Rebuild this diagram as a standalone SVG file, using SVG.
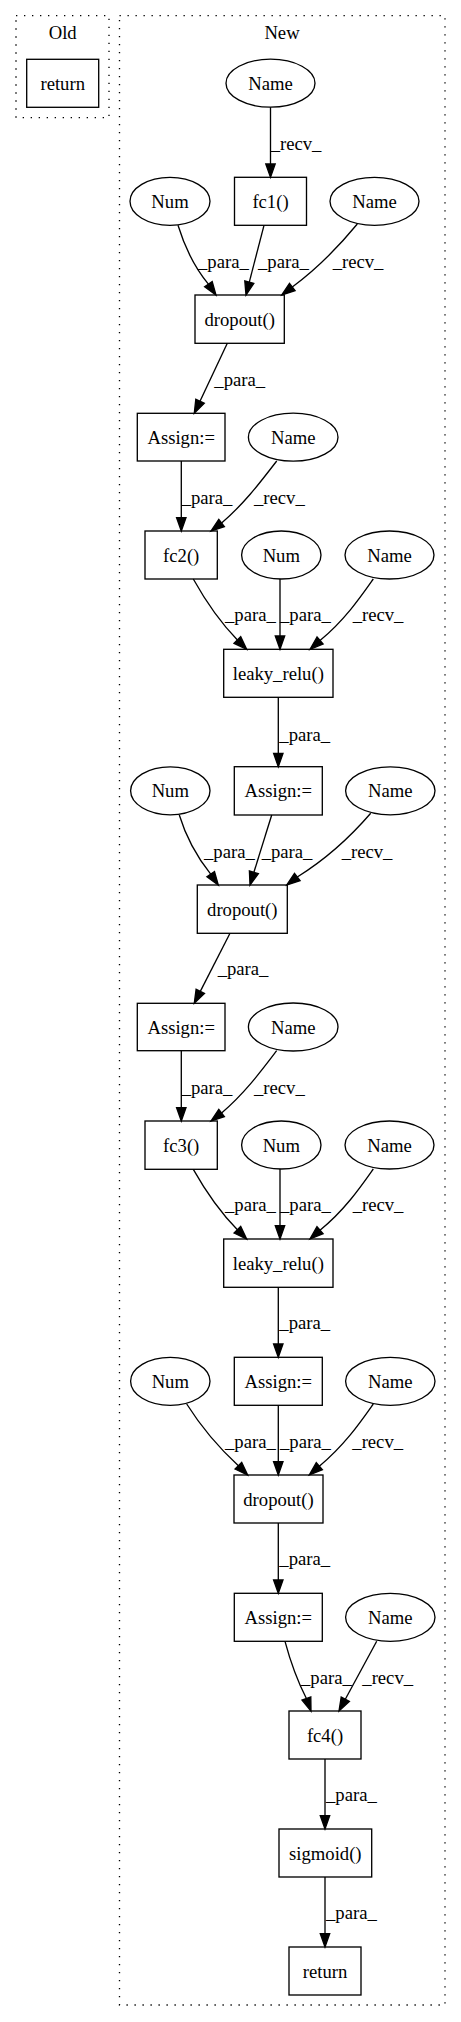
<svg xmlns="http://www.w3.org/2000/svg" width="461" height="2022" viewBox="0 0 461 2022">
<style>
text{font-family:"Liberation Serif","Times New Roman",serif;font-size:18.67px;fill:#000}
.n text{text-anchor:middle}
.n rect,.n ellipse{fill:none;stroke:#000;stroke-width:1.33}
.cl{fill:none;stroke:#000;stroke-width:1.33;stroke-dasharray:1.33,6.67}
.e path{fill:none;stroke:#000;stroke-width:1.33}
.e polygon{fill:#000;stroke:#000;stroke-width:1.33}
</style>
<rect width="461" height="2022" fill="#fff"/>
<g id="clusters">
<rect class="cl" x="16" y="15.7" width="93" height="102"/>
<text x="62.7" y="39" text-anchor="middle">Old</text>
<rect class="cl" x="119.5" y="15.7" width="325.5" height="1989.3"/>
<text x="282" y="39" text-anchor="middle">New</text>
</g>
<g id="old_return" class="n"><rect x="26.7" y="59.3" width="72" height="48"/><text x="62.7" y="89.8">return</text></g>
<g id="name1" class="n"><ellipse cx="270.5" cy="83.2" rx="44.5" ry="24"/><text x="270.5" y="89.8">Name</text></g>
<g id="fc1" class="n"><rect x="234.5" y="177.3" width="72" height="48"/><text x="270.5" y="207.8">fc1()</text></g>
<g id="num1" class="n"><ellipse cx="170" cy="201.3" rx="40" ry="24"/><text x="170" y="207.8">Num</text></g>
<g id="name2" class="n"><ellipse cx="374.5" cy="201.3" rx="44.5" ry="24"/><text x="374.5" y="207.8">Name</text></g>
<g id="dropout1" class="n"><rect x="195" y="295" width="89.3" height="48.3"/><text x="239.7" y="325.5">dropout()</text></g>
<g id="assign1" class="n"><rect x="137.3" y="413.3" width="87.7" height="47.7"/><text x="181.2" y="443.7">Assign:=</text></g>
<g id="name3" class="n"><ellipse cx="293.2" cy="437.2" rx="44.8" ry="24"/><text x="293.2" y="443.7">Name</text></g>
<g id="fc2" class="n"><rect x="145" y="531" width="72.3" height="48"/><text x="181.2" y="561.5">fc2()</text></g>
<g id="num2" class="n"><ellipse cx="281.3" cy="555" rx="39.7" ry="24"/><text x="281.3" y="561.5">Num</text></g>
<g id="name4" class="n"><ellipse cx="389.5" cy="555" rx="44.5" ry="24"/><text x="389.5" y="561.5">Name</text></g>
<g id="leaky1" class="n"><rect x="223.7" y="649.3" width="109.3" height="48"/><text x="278.3" y="679.8">leaky_relu()</text></g>
<g id="assign2" class="n"><rect x="234.3" y="766.7" width="88" height="48.3"/><text x="278.3" y="797.3">Assign:=</text></g>
<g id="num3" class="n"><ellipse cx="170.3" cy="790.8" rx="39.7" ry="24"/><text x="170.3" y="797.3">Num</text></g>
<g id="name5" class="n"><ellipse cx="390.3" cy="790.8" rx="44.7" ry="24"/><text x="390.3" y="797.3">Name</text></g>
<g id="dropout2" class="n"><rect x="197.3" y="885" width="90" height="48.3"/><text x="242.3" y="915.5">dropout()</text></g>
<g id="assign3" class="n"><rect x="137.3" y="1003.3" width="87.7" height="47.4"/><text x="181.2" y="1033.5">Assign:=</text></g>
<g id="name6" class="n"><ellipse cx="293.2" cy="1027" rx="44.8" ry="24"/><text x="293.2" y="1033.5">Name</text></g>
<g id="fc3" class="n"><rect x="145" y="1121" width="72.3" height="48.3"/><text x="181.2" y="1151.5">fc3()</text></g>
<g id="num4" class="n"><ellipse cx="281.3" cy="1145" rx="39.7" ry="24"/><text x="281.3" y="1151.5">Num</text></g>
<g id="name7" class="n"><ellipse cx="389.5" cy="1145" rx="44.5" ry="24"/><text x="389.5" y="1151.5">Name</text></g>
<g id="leaky2" class="n"><rect x="223.7" y="1239" width="109.3" height="48.3"/><text x="278.3" y="1269.5">leaky_relu()</text></g>
<g id="assign4" class="n"><rect x="234.3" y="1357.3" width="88" height="48"/><text x="278.3" y="1387.8">Assign:=</text></g>
<g id="num5" class="n"><ellipse cx="170.3" cy="1381.3" rx="39.7" ry="24"/><text x="170.3" y="1387.8">Num</text></g>
<g id="name8" class="n"><ellipse cx="390.3" cy="1381.3" rx="44.7" ry="24"/><text x="390.3" y="1387.8">Name</text></g>
<g id="dropout3" class="n"><rect x="234" y="1475" width="89" height="48"/><text x="278.5" y="1505.5">dropout()</text></g>
<g id="assign5" class="n"><rect x="234.3" y="1593.3" width="88" height="48"/><text x="278.3" y="1623.8">Assign:=</text></g>
<g id="name9" class="n"><ellipse cx="390.3" cy="1617.3" rx="44.7" ry="24"/><text x="390.3" y="1623.8">Name</text></g>
<g id="fc4" class="n"><rect x="289" y="1711" width="72" height="48"/><text x="325" y="1741.5">fc4()</text></g>
<g id="sigmoid" class="n"><rect x="279" y="1829" width="92.7" height="48"/><text x="325.3" y="1859.5">sigmoid()</text></g>
<g id="new_return" class="n"><rect x="289" y="1947" width="72" height="48"/><text x="325" y="1977.5">return</text></g>
<g id="edges" class="e">
<path d="M270.5,107.2 L270.5,164"/><polygon points="265.8,164 270.5,177.3 275.2,164"/>
<text x="270.7" y="150">_recv_</text>
<path d="M178,225.3 C185,248 195,268 208.4,284.1"/><polygon points="204.6,286.8 216,295 212.2,281.5"/>
<text x="198" y="268">_para_</text>
<path d="M264,225.3 L249.3,282.1"/><polygon points="244.8,281 246,295 253.8,283.3"/>
<text x="258" y="268">_para_</text>
<path d="M357.3,224 C340,245 318,268 292.3,287"/><polygon points="289.5,283.3 281.7,295 295.1,290.7"/>
<text x="332.7" y="268">_recv_</text>
<path d="M227.3,343.3 L200,401.3"/><polygon points="195.8,399.3 194.3,413.3 204.3,403.3"/>
<text x="214.3" y="386">_para_</text>
<path d="M181.3,461 L181.3,517.7"/><polygon points="176.6,517.7 181.3,531 186,517.7"/>
<text x="181.7" y="503.5">_para_</text>
<path d="M276.7,461 C262,480 245,503 221.6,523"/><polygon points="218.8,519.3 211,531 224.4,526.7"/>
<text x="254" y="503.5">_recv_</text>
<path d="M193.3,579 C205,600 220,622 237.4,640"/><polygon points="234,643.3 246.7,649.3 240.7,636.7"/>
<text x="225" y="621">_para_</text>
<path d="M280,579 L280,636"/><polygon points="275.3,636 280,649.3 284.7,636"/>
<text x="280" y="621">_para_</text>
<path d="M373.3,579 C362,595 345,620 320,640.5"/><polygon points="317,637 310,649.3 323.1,644"/>
<text x="352.7" y="621">_recv_</text>
<path d="M278.3,697.3 L278.3,753.4"/><polygon points="273.6,753.4 278.3,766.7 283,753.4"/>
<text x="279.3" y="740.5">_para_</text>
<path d="M179.3,815 C186,837 197,857 210.7,874.1"/><polygon points="206.9,876.8 218.3,885 214.5,871.5"/>
<text x="204" y="857.5">_para_</text>
<path d="M271.7,815 L253.9,872.3"/><polygon points="249.4,870.9 250,885 258.4,873.7"/>
<text x="261.7" y="857.5">_para_</text>
<path d="M370.7,813.3 C352,835 328,858 297.3,877"/><polygon points="294.5,873.3 286.7,885 300.1,880.7"/>
<text x="341.7" y="857.5">_recv_</text>
<path d="M230,933.3 L200.3,991.4"/><polygon points="196.1,989.3 194.3,1003.3 204.5,993.5"/>
<text x="217.7" y="975">_para_</text>
<path d="M181.3,1050.7 L181.3,1107.7"/><polygon points="176.6,1107.7 181.3,1121 186,1107.7"/>
<text x="181.7" y="1093.5">_para_</text>
<path d="M276.7,1050.7 C262,1070 245,1093 221.6,1113"/><polygon points="218.8,1109.3 211,1121 224.4,1116.7"/>
<text x="254" y="1093.5">_recv_</text>
<path d="M193.3,1169.3 C205,1190 220,1212 237.4,1229.7"/><polygon points="234,1233 246.7,1239 240.7,1226.4"/>
<text x="225" y="1211">_para_</text>
<path d="M280,1169 L280,1225.7"/><polygon points="275.3,1225.7 280,1239 284.7,1225.7"/>
<text x="280" y="1211">_para_</text>
<path d="M373.3,1169 C362,1185 345,1210 320,1230.2"/><polygon points="317,1226.7 310,1239 323.1,1233.7"/>
<text x="352.7" y="1211">_recv_</text>
<path d="M278.3,1287.3 L278.3,1344"/><polygon points="273.6,1344 278.3,1357.3 283,1344"/>
<text x="279.3" y="1329">_para_</text>
<path d="M186.7,1404 C200,1425 218,1447 238.4,1465.7"/><polygon points="235,1469 247.7,1475 241.7,1462.4"/>
<text x="225" y="1447.5">_para_</text>
<path d="M278.3,1405.3 L278.3,1461.7"/><polygon points="273.6,1461.7 278.3,1475 283,1461.7"/>
<text x="280" y="1447.5">_para_</text>
<path d="M373.3,1404 C362,1420 345,1445 319.3,1466.2"/><polygon points="316.3,1462.7 309.3,1475 322.4,1469.7"/>
<text x="352.3" y="1447.5">_recv_</text>
<path d="M278.3,1523 L278.3,1580"/><polygon points="273.6,1580 278.3,1593.3 283,1580"/>
<text x="279.3" y="1564.5">_para_</text>
<path d="M285,1641.3 C290,1660 297,1680 306.4,1698.5"/><polygon points="302,1700.1 311,1711 310.8,1696.9"/>
<text x="301" y="1683.5">_para_</text>
<path d="M376.7,1641.3 L345.3,1699.3"/><polygon points="341.2,1697.1 339,1711 349.4,1701.5"/>
<text x="362.3" y="1683.5">_recv_</text>
<path d="M325,1759 L325,1815.7"/><polygon points="320.3,1815.7 325,1829 329.7,1815.7"/>
<text x="326" y="1801">_para_</text>
<path d="M325,1877 L325,1933.7"/><polygon points="320.3,1933.7 325,1947 329.7,1933.7"/>
<text x="326" y="1919">_para_</text>
</g>
</svg>
